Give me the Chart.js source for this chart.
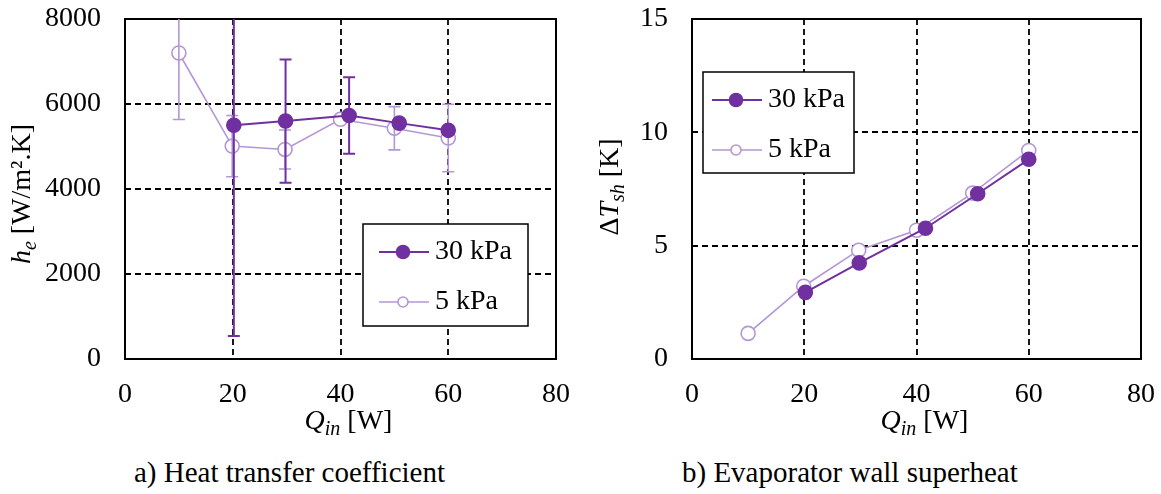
<!DOCTYPE html>
<html>
<head>
<meta charset="utf-8">
<script src="https://cdn.jsdelivr.net/npm/chart.js@4.4.1/dist/chart.umd.min.js"></script>
<style>
  body { margin: 0; background: #fff; }
  #wrap { position: relative; width: 1161px; height: 494px; font-family: "Liberation Serif", "Times New Roman", serif; }
  canvas { position: absolute; top: 0; }
  .caption { position: absolute; top: 456px; font-size: 29px; line-height: 32px; white-space: nowrap; color: #000; }
</style>
</head>
<body>
<div id="wrap">
  <canvas id="htc_chart" width="580" height="445" style="left:0"></canvas>
  <canvas id="superheat_chart" width="581" height="445" style="left:580px"></canvas>
  <div class="caption" style="left:134px">a) Heat transfer coefficient</div>
  <div class="caption" style="left:682px">b) Evaporator wall superheat</div>
</div>
<script>
// heat input [W] for each test series
const heatInput30 = [20.2, 29.8, 41.6, 50.9, 60.0];
const heatInput5 = [10.0, 19.9, 29.7, 40.0, 50.0, 60.0];

// evaporator heat transfer coefficient [W/m2.K] and its uncertainty
const htc30 = [5500, 5600, 5730, 5550, 5380];
const htcErr30 = [4960, 1450, 900, 0, 0];
const htc5 = [7200, 5010, 4930, 5640, 5430, 5200];
const htcErr5 = [1565, 720, 460, 0, 509, 795];

// evaporator wall superheat [K]
const superheat30 = [2.94, 4.24, 5.77, 7.29, 8.81];
const superheat5 = [1.13, 3.21, 4.80, 5.68, 7.32, 9.20];

// axis ticks
const heatTicks = [0, 20, 40, 60, 80];
const htcTicks = [0, 2000, 4000, 6000, 8000];
const superheatTicks = [0, 5, 10, 15];

const DARK = '#7030A0';
const LIGHT = '#B496D6';
const FONT = '"Liberation Serif", "Times New Roman", serif';

const partFont = (p, size) =>
  `${p.i ? 'italic ' : ''}${p.sub ? Math.round(size * 0.7) : size}px ${FONT}`;

// draws a title made of normal / italic / subscript pieces, centred on (cx, cy)
function drawRich(ctx, parts, cx, cy, rotate, size) {
  ctx.save();
  ctx.translate(cx, cy);
  if (rotate) ctx.rotate(-Math.PI / 2);
  let total = 0;
  parts.forEach(p => { ctx.font = partFont(p, size); total += ctx.measureText(p.t).width; });
  let x = -total / 2;
  ctx.textBaseline = 'alphabetic';
  ctx.fillStyle = '#000';
  parts.forEach(p => {
    ctx.font = partFont(p, size);
    ctx.fillText(p.t, x, p.sub ? size * 0.22 : 0);
    x += ctx.measureText(p.t).width;
  });
  ctx.restore();
}

// dashed inner grid + solid frame round the plot area
const frameGrid = {
  id: 'frameGrid',
  beforeDatasetsDraw(chart) {
    const {ctx, chartArea: a, scales: {x, y}} = chart;
    ctx.save();
    ctx.strokeStyle = '#000';
    ctx.lineWidth = 1.8;
    ctx.setLineDash([6, 4]);
    ctx.beginPath();
    x.ticks.forEach(t => {
      if (t.value <= x.min || t.value >= x.max) return;
      const px = Math.round(x.getPixelForValue(t.value));
      ctx.moveTo(px, a.top); ctx.lineTo(px, a.bottom);
    });
    y.ticks.forEach(t => {
      if (t.value <= y.min || t.value >= y.max) return;
      const py = Math.round(y.getPixelForValue(t.value));
      ctx.moveTo(a.left, py); ctx.lineTo(a.right, py);
    });
    ctx.stroke();
    ctx.setLineDash([]);
    ctx.lineWidth = 2;
    ctx.strokeRect(a.left, a.top, a.width, a.height);
    ctx.restore();
  }
};

// vertical error bars with caps, drawn right after their own dataset
const errorBars = {
  id: 'errorBars',
  afterDatasetDraw(chart, args) {
    const ds = chart.data.datasets[args.index];
    if (!ds.errors) return;
    const {ctx, chartArea: a, scales: {x, y}} = chart;
    ctx.save();
    ctx.beginPath();
    ctx.rect(a.left, a.top, a.width, a.height);
    ctx.clip();
    ctx.strokeStyle = ds.borderColor;
    ctx.lineWidth = ds.borderWidth;
    ds.data.forEach((p, i) => {
      const e = ds.errors[i];
      if (!e) return;
      const px = x.getPixelForValue(p.x);
      const top = y.getPixelForValue(p.y + e);
      const bot = y.getPixelForValue(p.y - e);
      ctx.beginPath();
      ctx.moveTo(px, top); ctx.lineTo(px, bot);
      ctx.moveTo(px - 6, top); ctx.lineTo(px + 6, top);
      ctx.moveTo(px - 6, bot); ctx.lineTo(px + 6, bot);
      ctx.stroke();
    });
    ctx.restore();
  }
};

// boxed legend placed inside the plot area
const insideLegend = {
  id: 'insideLegend',
  afterDatasetsDraw(chart, args, opts) {
    const {ctx, chartArea: a} = chart;
    const bx = a.left + opts.x, by = a.top + opts.y;
    ctx.save();
    ctx.font = `28px ${FONT}`;
    const textW = Math.max(...chart.data.datasets.map(d => ctx.measureText(d.label).width));
    const w = opts.pad * 2 + 56 + textW;
    ctx.fillStyle = '#fff';
    ctx.fillRect(bx, by, w, opts.h);
    ctx.strokeStyle = '#000';
    ctx.lineWidth = 1.5;
    ctx.strokeRect(bx, by, w, opts.h);
    chart.data.datasets.forEach((d, i) => {
      const cy = by + 28 + i * 50;
      const sx = bx + opts.pad;
      ctx.strokeStyle = d.borderColor;
      ctx.lineWidth = d.borderWidth;
      ctx.beginPath();
      ctx.moveTo(sx, cy); ctx.lineTo(sx + 50, cy);
      ctx.stroke();
      ctx.beginPath();
      ctx.arc(sx + 24, cy, d.legendRadius, 0, Math.PI * 2);
      ctx.fillStyle = d.pointBackgroundColor;
      ctx.fill();
      ctx.lineWidth = d.pointBorderWidth;
      ctx.stroke();
      ctx.fillStyle = '#000';
      ctx.font = `28px ${FONT}`;
      ctx.textBaseline = 'middle';
      ctx.fillText(d.label, sx + 56, cy);
    });
    ctx.restore();
  }
};

// axis titles with italic symbols and subscripts
const axisTitles = {
  id: 'axisTitles',
  afterDraw(chart, args, opts) {
    const {ctx, chartArea: a} = chart;
    const midX = (a.left + a.right) / 2, midY = (a.top + a.bottom) / 2;
    drawRich(ctx, opts.x, midX + 8, a.bottom + 70, false, 28);
    drawRich(ctx, opts.y, a.left - opts.yOffset, midY + opts.yShift, true, 28);
  }
};

const points = (xs, ys) => xs.map((x, i) => ({x, y: ys[i]}));

function series(label, xs, ys, errs, filled) {
  return {
    label,
    data: points(xs, ys),
    errors: errs,
    showLine: true,
    borderColor: filled ? DARK : LIGHT,
    borderWidth: filled ? 2 : 1.6,
    pointRadius: 7,
    pointHoverRadius: 7,
    pointBackgroundColor: filled ? DARK : '#fff',
    pointBorderColor: filled ? DARK : LIGHT,
    pointBorderWidth: 1.6,
    legendRadius: filled ? 6.5 : 5
  };
}

// tick marks are hidden, their length only sets the label gap
function axisOptions(ticks, max, size, gap) {
  return {
    type: 'linear',
    min: 0,
    max,
    afterBuildTicks: s => { s.ticks = ticks.map(v => ({value: v})); },
    ticks: {
      padding: 0,
      color: '#000',
      font: {family: FONT, size: 28},
      callback: v => String(v)
    },
    grid: {display: false, drawTicks: true, tickLength: gap},
    border: {display: false},
    afterFit: s => { if (size.w) s.width = size.w; if (size.h) s.height = size.h; }
  };
}

function makeChart(id, datasets, yTicks, yMax, yWidth, padRight, legend, titles) {
  return new Chart(document.getElementById(id), {
    type: 'scatter',
    data: {datasets},
    options: {
      responsive: false,
      animation: false,
      layout: {padding: {top: 19, right: padRight, left: 0, bottom: 0}},
      scales: {
        x: axisOptions(heatTicks, 80, {h: 86}, 19),
        y: axisOptions(yTicks, yMax, {w: yWidth}, 24)
      },
      plugins: {
        legend: {display: false},
        tooltip: {enabled: false},
        insideLegend: legend,
        axisTitles: titles
      }
    },
    plugins: [frameGrid, errorBars, insideLegend, axisTitles]
  });
}

const qTitle = [{t: 'Q', i: true}, {t: 'in', i: true, sub: true}, {t: ' [W]'}];

const htc_chart = makeChart('htc_chart',
  [series('30 kPa', heatInput30, htc30, htcErr30, true),
   series('5 kPa', heatInput5, htc5, htcErr5, false)],
  htcTicks, 8000, 125, 24,
  {x: 238, y: 205, h: 102, pad: 16},
  {x: qTitle, y: [{t: 'h', i: true}, {t: 'e', i: true, sub: true}, {t: ' [W/m\u00B2.K]'}], yOffset: 95, yShift: 5}
);

const superheat_chart = makeChart('superheat_chart',
  [series('30 kPa', heatInput30, superheat30, null, true),
   series('5 kPa', heatInput5, superheat5, null, false)],
  superheatTicks, 15, 112, 20,
  {x: 11, y: 53, h: 101, pad: 9},
  {x: qTitle, y: [{t: '\u0394'}, {t: 'T', i: true}, {t: 'sh', i: true, sub: true}, {t: ' [K]'}], yOffset: 74, yShift: -2}
);
</script>
</body>
</html>
